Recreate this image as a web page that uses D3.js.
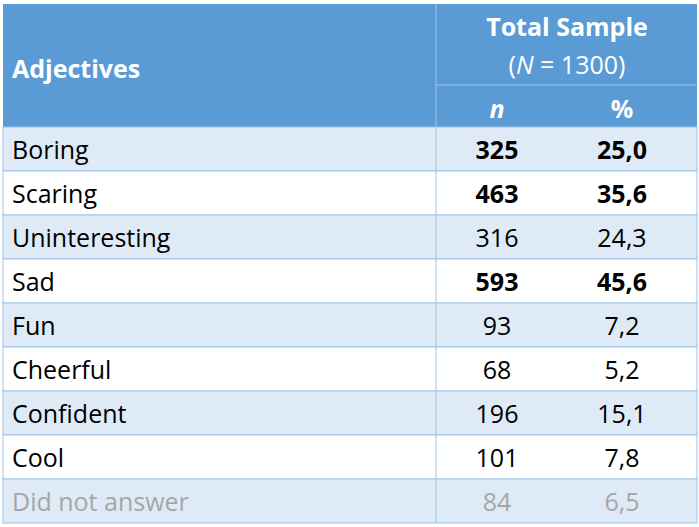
<!DOCTYPE html>
<html><head><meta charset="utf-8">
<script src="https://cdn.jsdelivr.net/npm/d3@7"></script>
<style>body{margin:0;background:#fff}</style>
</head><body><div id="scene"></div>
<script>
var adjectives = ["Boring","Scaring","Uninteresting","Sad","Fun","Cheerful","Confident","Cool","Did not answer"];
var counts = ["325","463","316","593","93","68","196","101","84"];
var percents = ["25,0","35,6","24,3","45,6","7,2","5,2","15,1","7,8","6,5"];
var bold = [true,true,false,true,false,false,false,false,false];

var ctx = { w: 699, h: 527, left: 3, right: 697, top: 4, headH: 123, subY: 85, rowH: 44, split: 436, nX: 497, pX: 622 };
var font = "Open Sans, sans-serif";

var svg = d3.select("#scene").append("svg").attr("width", ctx.w).attr("height", ctx.h);

// header
svg.append("rect").attr("x", ctx.left).attr("y", ctx.top).attr("width", ctx.right-ctx.left).attr("height", ctx.headH).attr("fill", "#5b9bd5");
svg.append("line").attr("x1", ctx.split).attr("x2", ctx.split).attr("y1", ctx.top).attr("y2", ctx.top+ctx.headH).attr("stroke", "#9dc3e6");
svg.append("line").attr("x1", ctx.split).attr("x2", ctx.right).attr("y1", ctx.subY).attr("y2", ctx.subY).attr("stroke", "#9dc3e6");

var hText = function(x, y, txt, anchor, weight) {
  return svg.append("text").attr("x", x).attr("y", y).attr("text-anchor", anchor)
    .attr("font-family", font).attr("font-size", 25).attr("font-weight", weight).attr("fill", "#fff").text(txt);
};
hText(12, 78, "Adjectives", "start", "bold");
hText(567, 36, "Total Sample", "middle", "bold");
var t = hText(567, 74, "(", "middle", "normal");
t.append("tspan").attr("font-style", "italic").text("N");
t.append("tspan").text(" = 1300)");
hText(ctx.nX, 118, "n", "middle", "bold").attr("font-style", "italic");
hText(ctx.pX, 118, "%", "middle", "bold");

var y = d3.scaleBand().domain(d3.range(adjectives.length)).range([ctx.top+ctx.headH, ctx.top+ctx.headH+ctx.rowH*adjectives.length]);

var rows = svg.selectAll("g.row").data(adjectives).enter().append("g").attr("class", "row")
  .attr("transform", function(d, i) { return "translate(0," + y(i) + ")"; });

rows.append("rect").attr("x", ctx.left).attr("width", ctx.right-ctx.left).attr("height", y.bandwidth())
  .attr("fill", function(d, i) { return i % 2 == 0 ? "#deebf7" : "#fff"; })
  .attr("stroke", "#9dc3e6").attr("stroke-width", 1);
rows.append("line").attr("x1", ctx.split).attr("x2", ctx.split).attr("y1", 0).attr("y2", y.bandwidth()).attr("stroke", "#9dc3e6");

var color = function(i) { return i == adjectives.length-1 ? "#a6a6a6" : "#000"; };
var cell = function(x, anchor, txt, boldFn) {
  rows.append("text").attr("x", x).attr("y", 32).attr("text-anchor", anchor)
    .attr("font-family", font).attr("font-size", 25)
    .attr("font-weight", function(d, i) { return boldFn(i) ? "bold" : "normal"; })
    .attr("fill", function(d, i) { return color(i); })
    .text(txt);
};
cell(12, "start", function(d) { return d; }, function() { return false; });
cell(ctx.nX, "middle", function(d, i) { return counts[i]; }, function(i) { return bold[i]; });
cell(ctx.pX, "middle", function(d, i) { return percents[i]; }, function(i) { return bold[i]; });
</script></body></html>
